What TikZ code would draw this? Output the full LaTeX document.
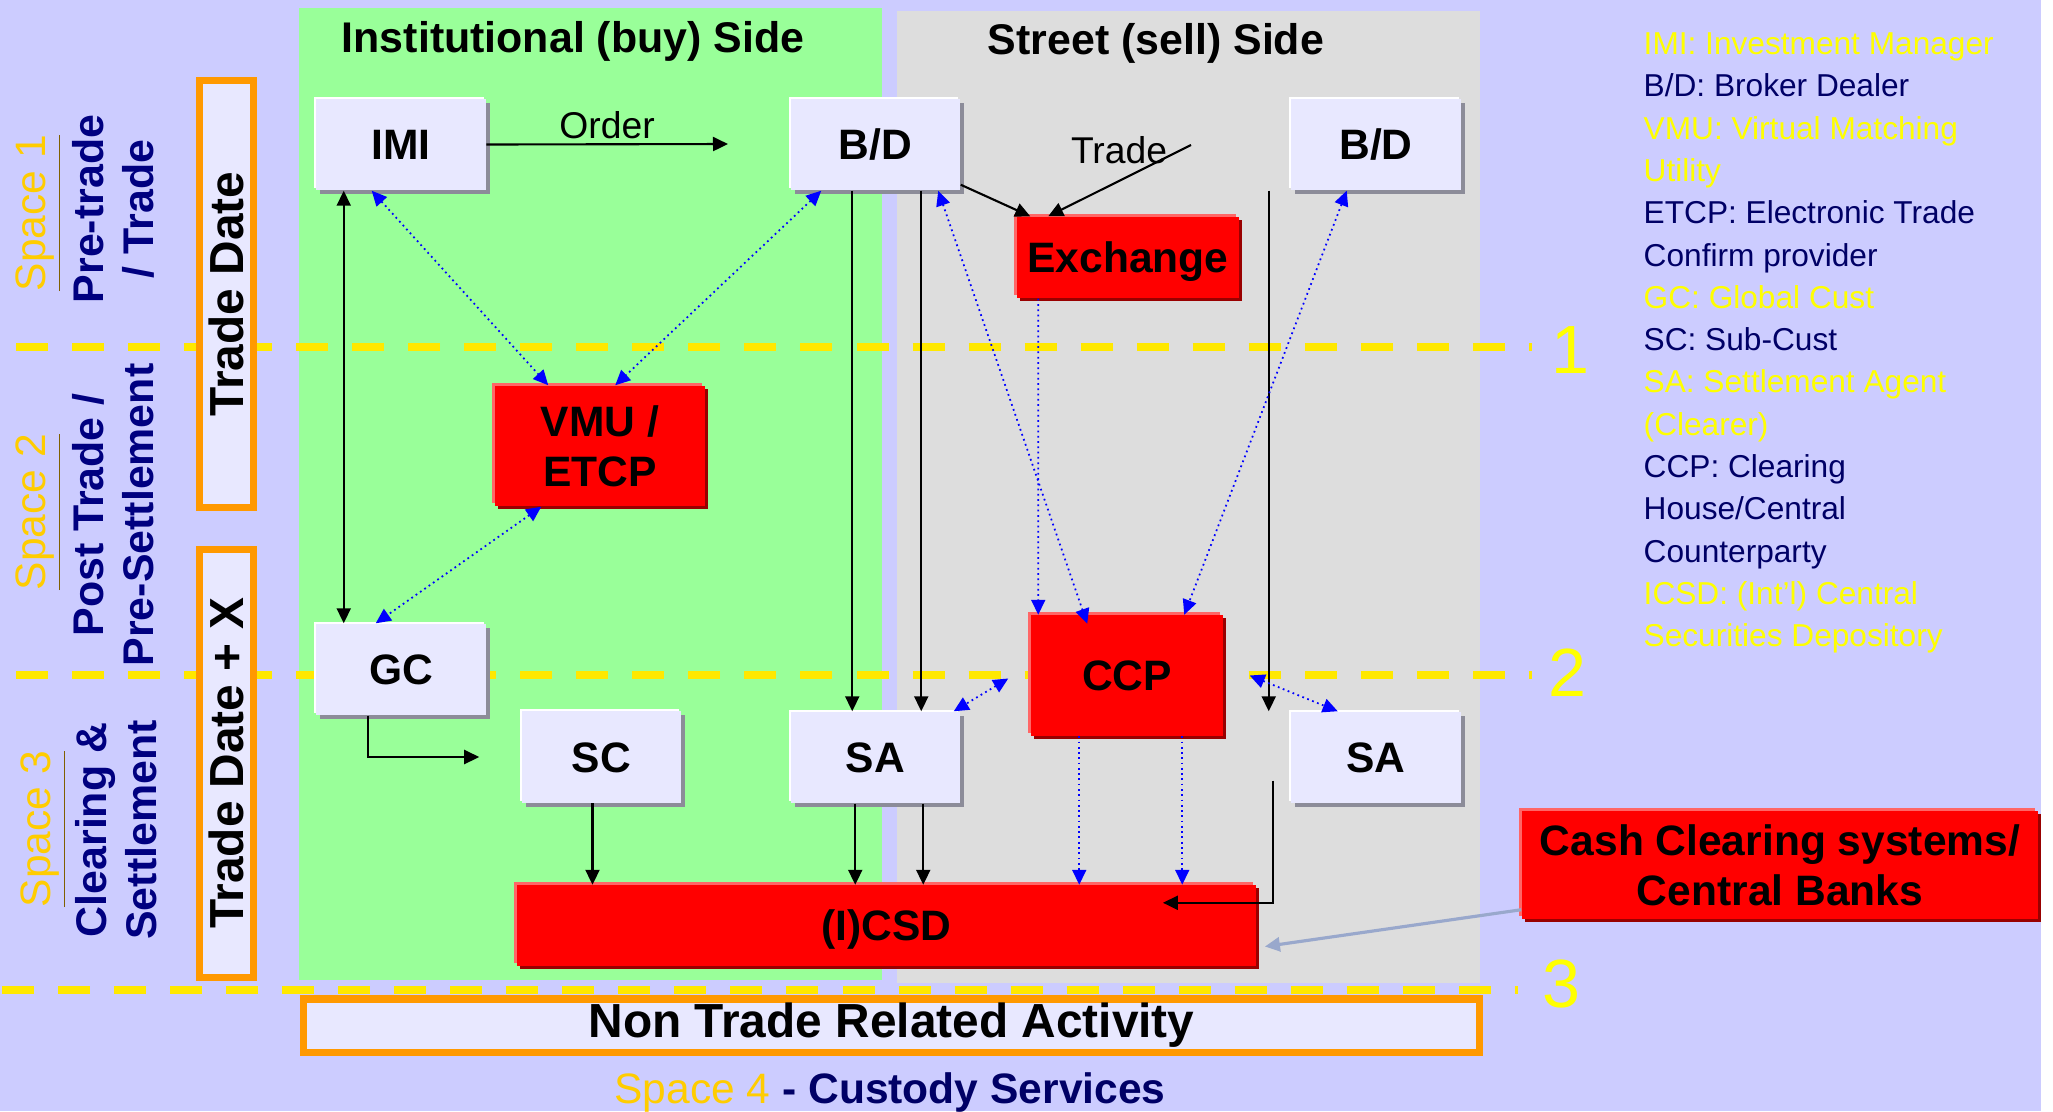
\documentclass[tikz,border=0pt]{standalone}
\usepackage{fontspec}
\setmainfont{Liberation Sans}
\usepackage{xcolor}
\usetikzlibrary{positioning, arrows.meta, calc, shadows}

\definecolor{lavbg}{HTML}{CCCCFF}
\definecolor{buyside}{HTML}{99FF99}
\definecolor{sellside}{HTML}{DDDDDD}
\definecolor{boxfill}{HTML}{E8E8FF}
\definecolor{frame}{HTML}{FF9900}
\definecolor{gold}{HTML}{FFCC00}
\definecolor{goldline}{HTML}{806000}
\definecolor{navy}{HTML}{000066}
\definecolor{navytwo}{HTML}{000080}
\definecolor{legyel}{HTML}{FFFF00}
\definecolor{dashyel}{HTML}{FFE800}
\definecolor{cashgray}{HTML}{99A8CC}
\definecolor{shadegray}{HTML}{8C8C99}
\definecolor{darkred}{HTML}{990000}
\definecolor{pinkred}{HTML}{FF6666}

\newcommand{\boxfont}{\bfseries\fontsize{12.1}{14.2}\selectfont}
\newcommand{\spacetxt}[1]{\textcolor{goldline}{\underline{\textcolor{gold}{Space #1}}}}

\pgfdeclarelayer{bg}
\pgfsetlayers{bg,main}

\begin{document}
\begin{tikzpicture}[x=0.01cm, y=-0.01cm,
    >={Triangle[length=0.15cm, width=0.14cm]},
    ent/.style={fill=boxfill, inner sep=0pt, minimum width=1.69cm, minimum height=0.91cm, font=\boxfont,
        text height=8.7pt, text depth=0pt,
        general shadow={shadow xshift=-0.02cm, shadow yshift=0.02cm, fill=white, opacity=1},
        drop shadow={shadow xshift=0.04cm, shadow yshift=-0.04cm, fill=shadegray, opacity=1}},
    infra/.style={fill=red, inner sep=0pt, font=\boxfont, align=center,
        general shadow={shadow xshift=-0.03cm, shadow yshift=0.03cm, fill=pinkred, opacity=1},
        drop shadow={shadow xshift=0.03cm, shadow yshift=-0.03cm, fill=darkred, opacity=1}},
    oneline/.style={text height=8.7pt, text depth=0pt},
    datebox/.style={draw=frame, line width=0.07cm, fill=boxfill, rotate=90, inner sep=0pt,
        font=\bfseries\fontsize{13.6}{16}\selectfont},
    sidetitle/.style={anchor=base, font=\bfseries\fontsize{12.2}{14}\selectfont},
    phasetxt/.style={rotate=90, align=center, inner sep=0pt, text=navytwo,
        font=\bfseries\fontsize{12.2}{14.2}\selectfont},
    spacelbl/.style={rotate=90, inner sep=0pt, font=\fontsize{12.1}{14}\selectfont},
    legtxt/.style={anchor=base west, inner sep=0pt, font=\fontsize{9}{12}\selectfont},
    bandnum/.style={inner sep=0pt, text=legyel, font=\fontsize{19.4}{22}\selectfont},
    bound/.style={draw=dashyel, line width=0.08cm, dash pattern=on 0.32cm off 0.24cm},
    lbl/.style={inner sep=0pt, font=\fontsize{10.6}{12}\selectfont},
    link/.style={draw=black, line width=0.6pt},
    match/.style={draw=blue, line width=0.5pt, densely dotted},
    cashlink/.style={draw=cashgray, line width=0.9pt, -{Triangle[length=0.15cm, width=0.14cm]}},
]
\useasboundingbox (0,0) rectangle (2053,1111);

% backdrop, the two sides and the phase borders
\begin{pgfonlayer}{bg}
\fill[lavbg] (0,0) rectangle (2041,1111);
\fill[buyside] (299,8) rectangle (882,980);
\fill[sellside] (897,11) rectangle (1480,983);
\draw[bound] (16,347) -- (1532,347);
\draw[bound] (16,675) -- (1532,675);
\draw[bound] (2,990) -- (1518,990);
\end{pgfonlayer}

\node[sidetitle] (buytitle) at (573,52) {Institutional (buy) Side};
\node[sidetitle] (selltitle) at (1156,54) {Street (sell) Side};

% left column
\node[spacelbl] (sp1) at (39,213) {\spacetxt{1}};
\node[spacelbl] (sp2) at (39,512) {\spacetxt{2}};
\node[spacelbl] (sp3) at (44,829) {\spacetxt{3}};
\node[phasetxt] (ph1) at (113,209) {Pre-trade\\/ Trade};
\node[phasetxt] (ph2) at (113,515) {Post Trade /\\Pre-Settlement};
\node[phasetxt] (ph3) at (116,830) {Clearing \&\\Settlement};
\node[datebox, minimum width=4.27cm, minimum height=0.54cm] (tdate) at (226.5,294) {Trade Date};
\node[datebox, minimum width=4.28cm, minimum height=0.54cm] (tdatex) at (226.5,763.5) {Trade Date + X};

\node[bandnum] (num1) at (1570,350) {1};
\node[bandnum] (num2) at (1567,673) {2};
\node[bandnum] (num3) at (1561,984) {3};

% participants
\node[ent] (imi) at (401,144.5) {IMI};
\node[ent] (bdl) at (875.5,144.5) {B/D};
\node[ent] (bdr) at (1376,144.5) {B/D};
\node[infra, oneline, minimum width=2.22cm, minimum height=0.81cm] (exch) at (1128,257.5) {Exchange};
\node[infra, minimum width=2.10cm, minimum height=1.20cm] (vmu) at (600,446) {VMU /\\ETCP};
\node[ent] (gc) at (401,669.5) {GC};
\node[ent, minimum width=1.59cm] (sc) at (601.5,757) {SC};
\node[ent] (sal) at (875.5,757.5) {SA};
\node[infra, oneline, minimum width=1.92cm, minimum height=1.20cm] (ccp) at (1127,675.5) {CCP};
\node[ent] (sar) at (1376,757.5) {SA};
\node[infra, oneline, minimum width=7.39cm, minimum height=0.80cm] (csd) at (886.5,925.5) {(I)CSD};
\node[infra, minimum width=5.16cm, minimum height=1.08cm] (cash) at (1780,865) {Cash Clearing systems/\\Central Banks};

\node[draw=frame, line width=0.07cm, fill=boxfill, inner sep=0pt, minimum width=11.75cm, minimum height=0.53cm,
    font=\bfseries\fontsize{13.6}{16}\selectfont] (ntra) at (891.5,1025.5) {Non Trade Related Activity};
\node[anchor=base, text=navy, font=\bfseries\fontsize{12.1}{14}\selectfont] (custody) at (890,1103)
    {{\mdseries\spacetxt{4}} - Custody Services};

% trade flow
\coordinate (orderend) at (728,144);
\coordinate (tradefrom) at (1191,145);
\draw[link, ->] (imi.east) -- node[midway, above=0.04cm, lbl] {Order} (orderend);
\draw[link, ->] ($(bdl.south east)+(0,-6)$) -- ($(exch.north west)+(14,0)$);
\draw[link, ->] (tradefrom) -- ($(exch.north west)+(32,0)$);
\node[lbl] (tradelbl) at (1119,150) {Trade};

\draw[link, <->] ($(imi.south west)+(28,0)$) -- ($(gc.north west)+(28,0)$);
\draw[link, ->] ($(bdl.south west)+(62,0)$) -- ($(sal.north west)+(62,0)$);
\draw[link, ->] ($(bdl.south west)+(131,0)$) -- ($(sal.north west)+(131,0)$);
\draw[link, ->] ($(bdr.south west)+(-22,0)$) -- ($(sar.north west)+(-22,0)$);
\draw[link, ->] ($(sar.west)+(-18,23)$) |- ($(csd.north east)+(-94,18)$);
\draw[link, ->] ($(gc.south west)+(52,0)$) |- ($(sc.west)+(-42,0)$);
\draw[link, ->] ($(sc.south)+(-9,0)$) -- ($(sc.south |- csd.north)+(-9,0)$);
\draw[link, ->] ($(sal.south west)+(65,0)$) -- ($(sal.south west |- csd.north)+(65,0)$);
\draw[link, ->] ($(sal.south west)+(133,0)$) -- ($(sal.south west |- csd.north)+(133,0)$);

% matching and clearing messages
\draw[match, <->] ($(imi.south west)+(56,0)$) -- ($(vmu.north west)+(54,0)$);
\draw[match, <->] ($(bdl.south west)+(31,0)$) -- ($(vmu.north west)+(121,0)$);
\draw[match, <->] ($(vmu.south west)+(47,0)$) -- ($(gc.north west)+(60,0)$);
\draw[match, ->] ($(exch.south west)+(22,0)$) -- ($(ccp.north west)+(8,0)$);
\draw[match, <->] ($(bdl.south west)+(148,0)$) -- ($(ccp.north west)+(57,9)$);
\draw[match, <->] ($(bdr.south west)+(56,0)$) -- ($(ccp.north west)+(154,0)$);
\draw[match, <->] ($(ccp.west)+(-22,3)$) -- ($(sal.north east)+(-7,0)$);
\draw[match, <->] ($(ccp.east)+(26,0)$) -- ($(sar.north west)+(47,0)$);
\draw[match, ->] ($(ccp.south west)+(49,0)$) -- ($(ccp.south west |- csd.north)+(49,0)$);
\draw[match, ->] ($(ccp.south west)+(152,0)$) -- ($(ccp.south west |- csd.north)+(152,0)$);

\draw[cashlink] ($(cash.south west)+(0,-10)$) -- ($(csd.east)+(8,21)$);

% glossary
\foreach \txt/\col [count=\i from 0] in {
    IMI: Investment Manager/legyel,
    {B/D: Broker Dealer}/navy,
    VMU: Virtual Matching/legyel,
    Utility/legyel,
    ETCP: Electronic Trade/navy,
    Confirm provider/navy,
    GC: Global Cust/legyel,
    SC: Sub-Cust/navy,
    SA: Settlement Agent/legyel,
    {(Clearer)}/legyel,
    CCP: Clearing/navy,
    {House/Central}/navy,
    Counterparty/navy,
    {ICSD: (Int'l) Central}/legyel,
    Securities Depository/legyel}
    \node[legtxt, text=\col] (leg\i) at (1643,54.5+42.3*\i) {\txt};
\end{tikzpicture}
\end{document}
